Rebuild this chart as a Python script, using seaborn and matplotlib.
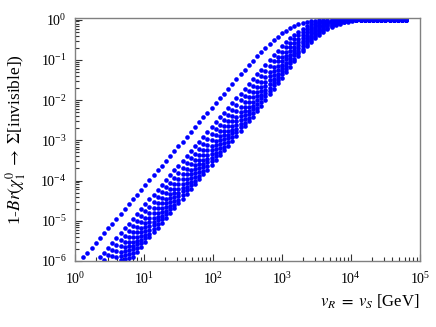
import numpy as np
import pandas as pd
import seaborn as sns
import matplotlib.pyplot as plt
from matplotlib.ticker import LogLocator, NullFormatter

# grid of log10(v_R) shared by all curves
log_v = [
    0.00, 0.06, 0.12, 0.18, 0.24, 0.30, 0.36, 0.42, 0.48, 0.54,
    0.60, 0.66, 0.72, 0.78, 0.84, 0.90, 0.96, 1.02, 1.08, 1.14,
    1.20, 1.26, 1.32, 1.38, 1.44, 1.50, 1.56, 1.62, 1.68, 1.74,
    1.80, 1.86, 1.92, 1.98, 2.04, 2.10, 2.16, 2.22, 2.28, 2.34,
    2.40, 2.46, 2.52, 2.58, 2.64, 2.70, 2.76, 2.82, 2.88, 2.94,
    3.00, 3.06, 3.12, 3.18, 3.24, 3.30, 3.36, 3.42, 3.48, 3.54,
    3.60, 3.66, 3.72, 3.78, 3.84, 3.90, 3.96, 4.02, 4.08, 4.14,
    4.20, 4.26, 4.32, 4.38, 4.44, 4.50, 4.56, 4.62, 4.68, 4.74,
    4.80,
]

# first grid point visible for each curve
starts = [2, 6, 7, 9, 10, 11, 11, 12, 13, 14]

# log10(1 - Br)
br_1 = [-5.91, -5.79, -5.67, -5.55, -5.43, -5.31, -5.19, -5.07, -4.95, -4.83,
        -4.71, -4.59, -4.47, -4.35, -4.23, -4.11, -3.99, -3.87, -3.75, -3.63,
        -3.51, -3.39, -3.27, -3.15, -3.03, -2.91, -2.79, -2.67, -2.55, -2.43,
        -2.31, -2.19, -2.07, -1.95, -1.84, -1.72, -1.60, -1.48, -1.36, -1.25,
        -1.14, -1.02, -0.91, -0.81, -0.70, -0.60, -0.51, -0.42, -0.34, -0.27,
        -0.21, -0.16, -0.12, -0.08, -0.06, -0.04, -0.03, -0.02, -0.01, -0.01,
        0, 0, 0, 0, 0, 0, 0, 0, 0, 0, 0, 0, 0, 0, 0, 0, 0, 0, 0]
br_2 = [-5.91, -5.79, -5.67, -5.55, -5.43, -5.31, -5.19, -5.07, -4.95, -4.83,
        -4.71, -4.59, -4.47, -4.35, -4.23, -4.11, -3.99, -3.87, -3.75, -3.63,
        -3.51, -3.39, -3.27, -3.15, -3.03, -2.91, -2.79, -2.67, -2.55, -2.43,
        -2.31, -2.19, -2.07, -1.95, -1.84, -1.72, -1.60, -1.48, -1.36, -1.24,
        -1.12, -1.00, -0.88, -0.77, -0.66, -0.56, -0.46, -0.37, -0.30, -0.23,
        -0.17, -0.12, -0.09, -0.06, -0.04, -0.03, -0.02, -0.01, -0.01,
        0, 0, 0, 0, 0, 0, 0, 0, 0, 0, 0, 0, 0, 0, 0, 0]
br_3 = [-5.97, -5.85, -5.73, -5.61, -5.49, -5.37, -5.25, -5.13, -5.01, -4.89,
        -4.77, -4.65, -4.53, -4.41, -4.29, -4.17, -4.05, -3.93, -3.81, -3.69,
        -3.57, -3.45, -3.33, -3.21, -3.09, -2.97, -2.85, -2.73, -2.61, -2.49,
        -2.37, -2.25, -2.13, -2.01, -1.89, -1.78, -1.66, -1.53, -1.41, -1.28,
        -1.16, -1.04, -0.92, -0.80, -0.69, -0.58, -0.48, -0.39, -0.31, -0.24,
        -0.18, -0.13, -0.09, -0.07, -0.05, -0.03, -0.02, -0.01, -0.01,
        0, 0, 0, 0, 0, 0, 0, 0, 0, 0, 0, 0, 0, 0, 0]
br_4 = [-5.88, -5.76, -5.64, -5.52, -5.40, -5.28, -5.16, -5.04, -4.92, -4.80,
        -4.68, -4.56, -4.44, -4.32, -4.20, -4.08, -3.96, -3.84, -3.72, -3.60,
        -3.48, -3.36, -3.24, -3.12, -3.00, -2.88, -2.76, -2.64, -2.52, -2.40,
        -2.28, -2.16, -2.04, -1.92, -1.81, -1.68, -1.55, -1.42, -1.29, -1.17,
        -1.04, -0.92, -0.80, -0.69, -0.58, -0.48, -0.39, -0.30, -0.23, -0.18,
        -0.13, -0.09, -0.07, -0.05, -0.03, -0.02, -0.01, -0.01,
        0, 0, 0, 0, 0, 0, 0, 0, 0, 0, 0, 0, 0, 0]
br_5 = [-5.89, -5.77, -5.65, -5.53, -5.41, -5.29, -5.17, -5.05, -4.93, -4.81,
        -4.69, -4.57, -4.45, -4.33, -4.21, -4.09, -3.97, -3.85, -3.73, -3.61,
        -3.49, -3.37, -3.25, -3.13, -3.01, -2.89, -2.77, -2.65, -2.53, -2.41,
        -2.29, -2.17, -2.05, -1.93, -1.81, -1.67, -1.54, -1.41, -1.28, -1.15,
        -1.03, -0.90, -0.78, -0.67, -0.56, -0.46, -0.37, -0.29, -0.23, -0.17,
        -0.13, -0.09, -0.06, -0.04, -0.03, -0.02, -0.01, -0.01,
        0, 0, 0, 0, 0, 0, 0, 0, 0, 0, 0, 0, 0]
br_6 = [-5.88, -5.76, -5.64, -5.52, -5.40, -5.28, -5.16, -5.04, -4.92, -4.80,
        -4.68, -4.56, -4.44, -4.32, -4.20, -4.08, -3.96, -3.84, -3.72, -3.60,
        -3.48, -3.36, -3.24, -3.12, -3.00, -2.88, -2.76, -2.64, -2.52, -2.40,
        -2.28, -2.16, -2.04, -1.91, -1.78, -1.65, -1.51, -1.38, -1.25, -1.12,
        -0.99, -0.87, -0.75, -0.64, -0.53, -0.43, -0.34, -0.27, -0.21, -0.16,
        -0.12, -0.08, -0.06, -0.04, -0.03, -0.02, -0.01, -0.01,
        0, 0, 0, 0, 0, 0, 0, 0, 0, 0, 0, 0]
br_7 = [-5.98, -5.86, -5.74, -5.62, -5.50, -5.38, -5.26, -5.14, -5.02, -4.90,
        -4.78, -4.66, -4.54, -4.42, -4.30, -4.18, -4.06, -3.94, -3.82, -3.70,
        -3.58, -3.46, -3.34, -3.22, -3.10, -2.98, -2.86, -2.74, -2.62, -2.50,
        -2.38, -2.26, -2.14, -2.01, -1.88, -1.74, -1.60, -1.47, -1.34, -1.21,
        -1.08, -0.95, -0.83, -0.71, -0.59, -0.49, -0.40, -0.32, -0.25, -0.19,
        -0.14, -0.10, -0.07, -0.05, -0.03, -0.02, -0.01, -0.01, -0.01,
        0, 0, 0, 0, 0, 0, 0, 0, 0, 0, 0]
br_8 = [-5.95, -5.83, -5.71, -5.59, -5.47, -5.35, -5.23, -5.11, -4.99, -4.87,
        -4.75, -4.63, -4.51, -4.39, -4.27, -4.15, -4.03, -3.91, -3.79, -3.67,
        -3.55, -3.43, -3.31, -3.19, -3.07, -2.95, -2.83, -2.71, -2.59, -2.47,
        -2.35, -2.23, -2.10, -1.96, -1.83, -1.69, -1.55, -1.42, -1.28, -1.15,
        -1.02, -0.89, -0.77, -0.65, -0.54, -0.45, -0.36, -0.29, -0.23, -0.17,
        -0.13, -0.09, -0.06, -0.04, -0.03, -0.02, -0.01, -0.01,
        0, 0, 0, 0, 0, 0, 0, 0, 0, 0, 0]
br_9 = [-5.92, -5.80, -5.68, -5.56, -5.44, -5.32, -5.20, -5.08, -4.96, -4.84,
        -4.72, -4.60, -4.48, -4.36, -4.24, -4.12, -4.00, -3.88, -3.76, -3.64,
        -3.52, -3.40, -3.28, -3.16, -3.04, -2.92, -2.80, -2.68, -2.56, -2.44,
        -2.32, -2.19, -2.05, -1.91, -1.77, -1.63, -1.50, -1.36, -1.23, -1.09,
        -0.97, -0.84, -0.72, -0.60, -0.50, -0.41, -0.33, -0.26, -0.20, -0.15,
        -0.11, -0.08, -0.05, -0.04, -0.02, -0.02, -0.01, -0.01,
        0, 0, 0, 0, 0, 0, 0, 0, 0, 0]
br_10 = [-5.89, -5.77, -5.65, -5.53, -5.41, -5.29, -5.17, -5.05, -4.93, -4.81,
         -4.69, -4.57, -4.45, -4.33, -4.21, -4.09, -3.97, -3.85, -3.73, -3.61,
         -3.49, -3.37, -3.25, -3.13, -3.01, -2.89, -2.77, -2.65, -2.53, -2.41,
         -2.28, -2.14, -2.00, -1.86, -1.72, -1.58, -1.44, -1.30, -1.17, -1.04,
         -0.91, -0.78, -0.66, -0.55, -0.46, -0.38, -0.30, -0.24, -0.18, -0.13,
         -0.10, -0.07, -0.05, -0.03, -0.02, -0.01, -0.01,
         0, 0, 0, 0, 0, 0, 0, 0, 0, 0]

curvas = [br_1, br_2, br_3, br_4, br_5, br_6, br_7, br_8, br_9, br_10]

linhas = []
for k, (ini, vals) in enumerate(zip(starts, curvas)):
    for j, lb in enumerate(vals):
        linhas.append({'v': 10 ** log_v[ini + j], 'br': 10 ** lb, 'curva': k})
df = pd.DataFrame(linhas)

sns.set_theme(style='white')
plt.rcParams['font.family'] = ['Liberation Serif', 'DejaVu Serif']
plt.rcParams['mathtext.fontset'] = 'stix'
for chave in ('text.color', 'axes.labelcolor', 'xtick.color', 'ytick.color'):
    plt.rcParams[chave] = 'black'

fig = plt.figure(figsize=(4.36, 3.27), dpi=100)
ax = fig.add_axes([0.172, 0.202, 0.791, 0.743])

sns.scatterplot(data=df, x='v', y='br', color='#0000ff', s=11,
                linewidth=0, legend=False, ax=ax)

ax.set_xscale('log')
ax.set_yscale('log')
ax.set_xlim(1, 1e5)
ax.set_ylim(1e-6, 1.1)

ax.xaxis.set_major_locator(LogLocator(base=10, numticks=20))
ax.yaxis.set_major_locator(LogLocator(base=10, numticks=20))
for eixo in (ax.xaxis, ax.yaxis):
    eixo.set_minor_locator(LogLocator(base=10, subs=np.arange(2, 10), numticks=100))
    eixo.set_minor_formatter(NullFormatter())

for sp in ax.spines.values():
    sp.set_color('#808080')
    sp.set_linewidth(1.0)

ax.tick_params(which='both', direction='in', top=False, right=False,
               left=True, bottom=True, color='#333333', width=0.8)
ax.tick_params(which='major', length=5)
ax.tick_params(which='minor', length=3)
ax.tick_params(axis='x', which='major', labelsize=10, pad=7)
ax.tick_params(axis='y', which='major', labelsize=10, pad=6)

ax.set_xlabel(r'$v_R\;=\;v_S$ [GeV]', fontsize=12, ha='right')
ax.xaxis.set_label_coords(1.0, -0.13)
ax.xaxis.label.set_va('top')
ax.set_ylabel(r'1-$Br(\chi_1^0\;\rightarrow\;\Sigma$[invisible])', fontsize=12.5)
ax.yaxis.set_label_coords(-0.135, 0.5)

fig.savefig('out.png', dpi=100)
